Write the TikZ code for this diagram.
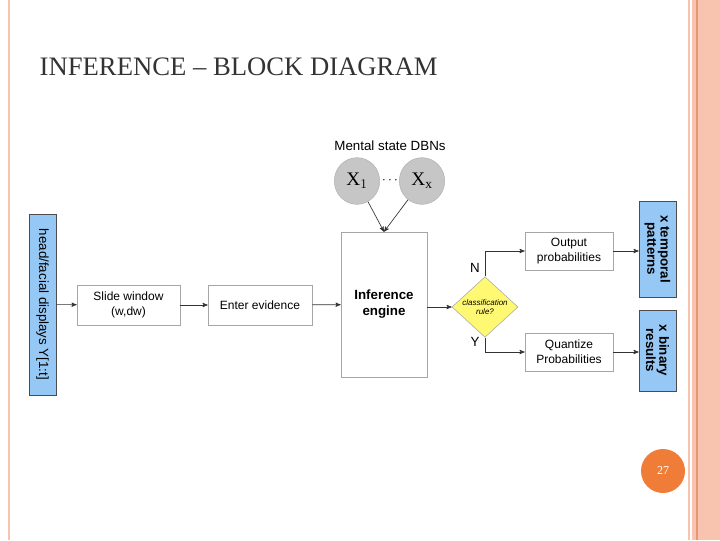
\documentclass[tikz,border=0pt]{standalone}
\usepackage{fontspec}
\setmainfont{Liberation Serif}
\newfontfamily\sansf{Liberation Sans}
\usetikzlibrary{arrows,shapes.geometric}
\definecolor{salmon}{RGB}{248,196,176}
\definecolor{salmonline}{RGB}{232,150,120}
\definecolor{boxblue}{RGB}{150,200,245}
\definecolor{pageorange}{RGB}{240,125,55}
\begin{document}
\begin{tikzpicture}[x=0.75pt,y=-0.75pt,
    >=stealth',
    block/.style = {
      draw = gray!70,
      fill = white,
      rectangle,
      align = center,
      font = \sansf\fontsize{9}{11}\selectfont
    },
    ioblock/.style = {
      draw = black!70,
      fill = boxblue,
      rectangle,
      align = center,
      rotate = -90,
      font = \sansf\bfseries\fontsize{10}{10}\selectfont
    },
    dbn/.style = {
      draw = gray!60,
      fill = gray!45,
      ellipse,
      minimum width = 34pt,
      minimum height = 35pt,
      inner sep = 0pt
    },
    link/.style = {->, black!80, line width=0.5pt}
  ]
  \useasboundingbox (0,0) rectangle (720,540);

  % slide decoration
  \fill[salmon] (688,0) rectangle (720,540);
  \draw[salmonline, line width=0.8pt] (697,0) -- (697,540);
  \draw[white, line width=1.5pt] (691,0) -- (691,540);
  \draw[salmon, line width=0.8pt] (9,0) -- (9,540);

  \node[anchor=west, text=gray!40!black, font=\fontsize{20}{20}\selectfont]
    (title) at (35,67) {INFERENCE -- BLOCK DIAGRAM};

  % input and processing chain
  \node[ioblock, minimum width=181*0.75pt, minimum height=27*0.75pt, inner sep=0pt]
    (input) at (42.5,304.5) {\mdseries head/facial displays Y[1:t]};
  \node[block, minimum width=103*0.75pt, minimum height=40*0.75pt]
    (slide) at (128.5,305) {Slide window\\(w,dw)};
  \node[block, minimum width=104*0.75pt, minimum height=40*0.75pt]
    (evidence) at (260,305) {Enter evidence};
  \node[block, minimum width=86*0.75pt, minimum height=145*0.75pt, font=\sansf\bfseries\fontsize{10}{12}\selectfont]
    (engine) at (384,304.5) {Inference\\engine};

  % mental state models
  \node[font=\sansf\fontsize{10}{10}\selectfont] (dbns) at (390,146) {Mental state DBNs};
  \node[dbn] (x1) at (357,181) {\Large$\mathrm{X}_1$};
  \node[dbn] (xx) at (422,181) {\Large$\mathrm{X}_\mathrm{x}$};
  \node (dots) at (390,181) {$\cdots$};

  % decision
  \node[diamond, draw=gray!70, fill=yellow!55, minimum width=66*0.75pt, minimum height=58*0.75pt,
    inner sep=0pt, align=center, font=\sansf\itshape\fontsize{6}{7}\selectfont]
    (rule) at (485,307) {classification\\rule?};
  \node[block, minimum width=88*0.75pt, minimum height=38*0.75pt]
    (output) at (569,251) {Output\\probabilities};
  \node[block, minimum width=88*0.75pt, minimum height=38*0.75pt]
    (quant) at (569,352) {Quantize\\Probabilities};
  \node[ioblock, minimum width=96*0.75pt, minimum height=37*0.75pt, inner sep=0pt]
    (temporal) at (657.5,249) {x temporal\\patterns};
  \node[ioblock, minimum width=81*0.75pt, minimum height=37*0.75pt, inner sep=0pt]
    (binary) at (657.5,350.5) {x binary\\results};

  \node[font=\sansf\fontsize{10}{10}\selectfont] (n) at (475,268) {N};
  \node[font=\sansf\fontsize{10}{10}\selectfont] (y) at (475,342) {Y};

  % connectors
  \draw[link] (input) -- (slide);
  \draw[link] (slide) -- (evidence);
  \draw[link] (evidence) -- (engine);
  \draw[link] (engine.east |- rule.west) -- (rule.west);
  \draw[link] (x1) -- (engine.north);
  \draw[link] (xx) -- (engine.north);
  \draw[link] (rule.north) |- (output.west);
  \draw[link] (rule.south) |- (quant.west);
  \draw[link] (output.east) -- (output -| temporal.south);
  \draw[link] (quant.east) -- (quant -| binary.south);

  % page number
  \node[circle, fill=pageorange, minimum size=44*0.75pt, text=white,
    font=\fontsize{9}{9}\selectfont] (page) at (663,471) {27};
\end{tikzpicture}
\end{document}
